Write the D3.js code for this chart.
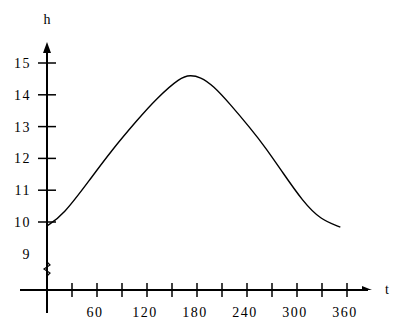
<!DOCTYPE html>
<html>
<head>
<meta charset="utf-8">
<script src="https://d3js.org/d3.v7.min.js"></script>
<style>
  body { margin: 0; background: #fff; }
  text { font-family: "Liberation Serif", serif; font-size: 14px; fill: #000; }
</style>
</head>
<body>
<svg width="396" height="321"></svg>
<script>
    // day of year and hours of daylight
    var days  = [0, 19, 52, 76, 108, 132, 160, 172, 184, 199, 220, 244, 262, 283, 307, 328, 352];
    var hours = [9.88, 10.2, 11.35, 12.2, 13.2, 13.9, 14.55, 14.62, 14.56, 14.3, 13.7, 12.95, 12.35, 11.55, 10.65, 10.08, 9.84];
    var xTicks = [30, 60, 90, 120, 150, 180, 210, 240, 270, 300, 330, 360];
    var xLabels = [60, 120, 180, 240, 300, 360];
    var yTicks = [10, 11, 12, 13, 14, 15];
    var yLabels = [9, 10, 11, 12, 13, 14, 15];

    var svg = d3.select("svg");
    var x0 = 47, baseY = 290;

    var xScale = d3.scaleLinear().domain([0, 360]).range([x0, 347]);
    var yScale = d3.scaleLinear().domain([10, 15]).range([222, 63]);

    // axes lines
    svg.append("line").attr("x1", 20).attr("x2", 368).attr("y1", baseY).attr("y2", baseY)
        .attr("stroke", "#000").attr("stroke-width", 2);
    svg.append("line").attr("x1", x0).attr("x2", x0).attr("y1", 313).attr("y2", 45)
        .attr("stroke", "#000").attr("stroke-width", 2);

    // arrows
    svg.append("path").attr("d", "M" + (x0 - 4) + ",53 L" + x0 + ",42 L" + (x0 + 4) + ",53 Z").attr("fill", "#000");
    svg.append("path").attr("d", "M362,286 L372,290 L362,290 Z").attr("fill", "#000");

    // break mark on the y axis
    svg.append("path")
        .attr("d", "M" + x0 + ",262 l3,3 l-6,4 l6,4 l-3,3")
        .attr("fill", "none").attr("stroke", "#000").attr("stroke-width", 1.2);

    // x ticks
    svg.selectAll(".xt").data(xTicks).enter().append("line")
        .attr("x1", function(d){ return xScale(d); })
        .attr("x2", function(d){ return xScale(d); })
        .attr("y1", baseY - 7).attr("y2", baseY + 7)
        .attr("stroke", "#000").attr("stroke-width", 1.5);
    svg.selectAll(".xl").data(xLabels).enter().append("text")
        .attr("x", function(d){ return xScale(d) - 2; })
        .attr("y", 317)
        .attr("text-anchor", "middle")
        .attr("letter-spacing", 1.5)
        .text(function(d){ return d; });

    // y ticks
    svg.selectAll(".yt").data(yTicks).enter().append("line")
        .attr("x1", x0 - 9).attr("x2", x0 + 9)
        .attr("y1", function(d){ return yScale(d); })
        .attr("y2", function(d){ return yScale(d); })
        .attr("stroke", "#000").attr("stroke-width", 1.5);
    svg.selectAll(".yl").data(yLabels).enter().append("text")
        .attr("x", 31)
        .attr("y", function(d){ return yScale(d) + 5; })
        .attr("text-anchor", "end")
        .attr("letter-spacing", 1.5)
        .text(function(d){ return d; });

    // axis names
    svg.append("text").attr("x", x0).attr("y", 24).attr("text-anchor", "middle").text("h");
    svg.append("text").attr("x", 385).attr("y", 294).text("t");

    // curve
    var line = d3.line()
        .x(function(d){ return xScale(d[0]); })
        .y(function(d){ return yScale(d[1]); })
        .curve(d3.curveBasis);
    svg.append("path")
        .datum(d3.zip(days, hours))
        .attr("d", line)
        .attr("fill", "none")
        .attr("stroke", "#000")
        .attr("stroke-width", 1.4);
</script>
</body>
</html>
